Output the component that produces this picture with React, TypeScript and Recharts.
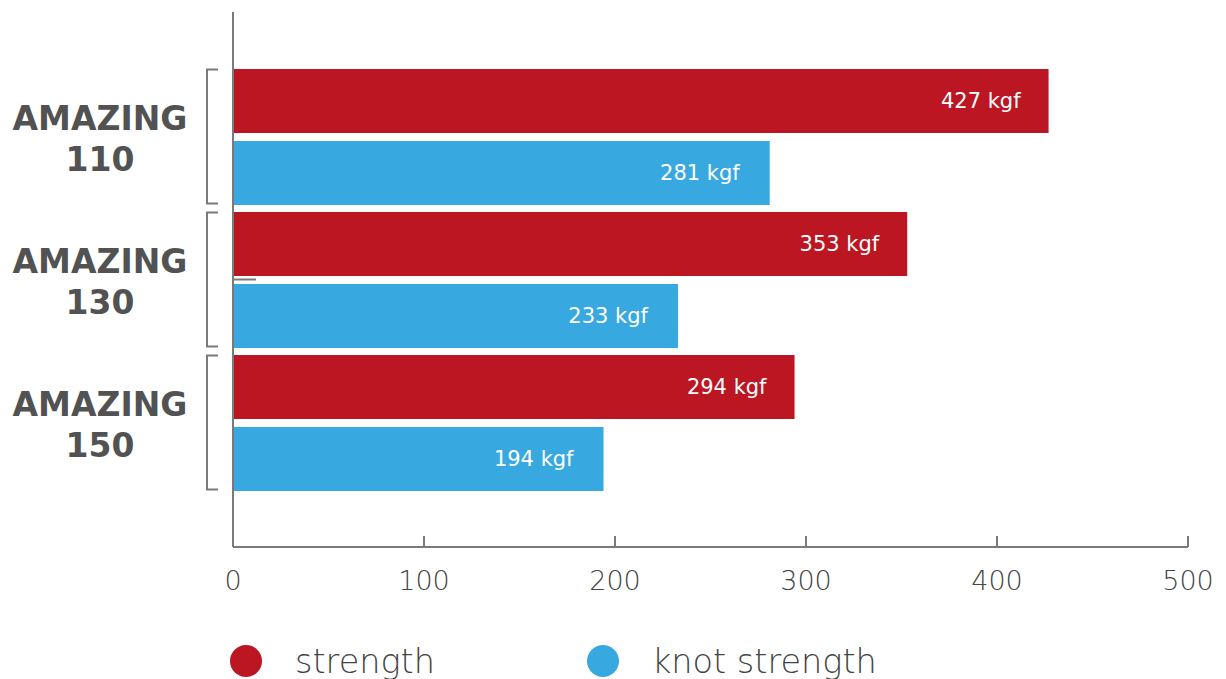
import { BarChart, Bar, XAxis, YAxis, Legend, LabelList } from "recharts";

const models = ["AMAZING 110", "AMAZING 130", "AMAZING 150"];
const strength = [427, 353, 294];
const knotStrength = [281, 233, 194];
const xTicks = [0, 100, 200, 300, 400, 500];

const RED = "#bc1622";
const BLUE = "#38a9e0";
const AXIS = "#7a7a7a";
const FONT = "'DejaVu Sans', sans-serif";

const data = models.map((name, i) => ({
  name,
  strength: strength[i],
  knot: knotStrength[i],
}));

function ModelTick(props: any) {
  const { x, y, payload, index } = props;
  const [line1, line2] = String(payload.value).split(" ");
  return (
    <g>
      <path
        d={`M${x - 15},${y - 67} H${x - 26} V${y + 67} H${x - 15}`}
        fill="none"
        stroke={AXIS}
        strokeWidth={2}
      />
      {index === 1 && (
        <line x1={x} x2={x + 23} y1={y} y2={y} stroke={AXIS} strokeWidth={2} />
      )}
      <text
        x={x - 133}
        y={y - 7}
        textAnchor="middle"
        fill="#525252"
        fontFamily={FONT}
        fontWeight="bold"
        fontSize={33}
      >
        {line1}
      </text>
      <text
        x={x - 133}
        y={y + 34}
        textAnchor="middle"
        fill="#525252"
        fontFamily={FONT}
        fontWeight="bold"
        fontSize={33}
      >
        {line2}
      </text>
    </g>
  );
}

function ValueTick(props: any) {
  const { x, y, payload } = props;
  return (
    <g>
      {payload.value > 0 && (
        <line x1={x} x2={x} y1={y - 11} y2={y} stroke={AXIS} strokeWidth={2} />
      )}
      <text
        x={x}
        y={y + 43}
        textAnchor="middle"
        fill="#444"
        fontFamily={FONT}
        fontWeight={300}
        fontSize={27}
      >
        {payload.value}
      </text>
    </g>
  );
}

function LegendContent() {
  const item = (color: string, label: string, ml: number) => (
    <div style={{ display: "flex", alignItems: "center", marginLeft: ml }}>
      <span
        style={{
          width: 32,
          height: 32,
          borderRadius: "50%",
          background: color,
          display: "inline-block",
        }}
      />
      <span
        style={{
          marginLeft: 33,
          fontFamily: FONT,
          fontWeight: 300,
          fontSize: 33.5,
          color: "#444",
        }}
      >
        {label}
      </span>
    </div>
  );
  return (
    <div style={{ display: "flex", height: 36, alignItems: "center" }}>
      {item(RED, "strength", 230)}
      {item(BLUE, "knot strength", 152)}
    </div>
  );
}

export default function App() {
  return (
    <div style={{ position: "absolute", left: 0, top: 0, background: "#fff" }}>
      <BarChart
        width={1226}
        height={679}
        data={data}
        layout="vertical"
        margin={{ top: 12, right: 38, bottom: 0, left: 0 }}
        barSize={64}
        barGap={8}
      >
        <XAxis
          type="number"
          domain={[0, 500]}
          ticks={xTicks}
          height={96}
          tickSize={0}
          tickMargin={0}
          tickLine={false}
          axisLine={{ stroke: AXIS, strokeWidth: 2 }}
          tick={<ValueTick />}
          interval={0}
        />
        <YAxis
          type="category"
          dataKey="name"
          width={233}
          padding={{ top: 53, bottom: 53 }}
          tickSize={0}
          tickMargin={0}
          tickLine={false}
          axisLine={{ stroke: AXIS, strokeWidth: 2 }}
          tick={<ModelTick />}
          interval={0}
        />
        <Legend verticalAlign="bottom" content={<LegendContent />} />
        <Bar dataKey="strength" name="strength" fill={RED} isAnimationActive={false}>
          <LabelList
            dataKey="strength"
            position="insideRight"
            offset={28}
            fill="#fff"
            fontFamily={FONT}
            fontSize={21}
            formatter={(v: any) => `${v} kgf`}
          />
        </Bar>
        <Bar dataKey="knot" name="knot strength" fill={BLUE} isAnimationActive={false}>
          <LabelList
            dataKey="knot"
            position="insideRight"
            offset={30}
            fill="#fff"
            fontFamily={FONT}
            fontSize={21}
            formatter={(v: any) => `${v} kgf`}
          />
        </Bar>
      </BarChart>
    </div>
  );
}
